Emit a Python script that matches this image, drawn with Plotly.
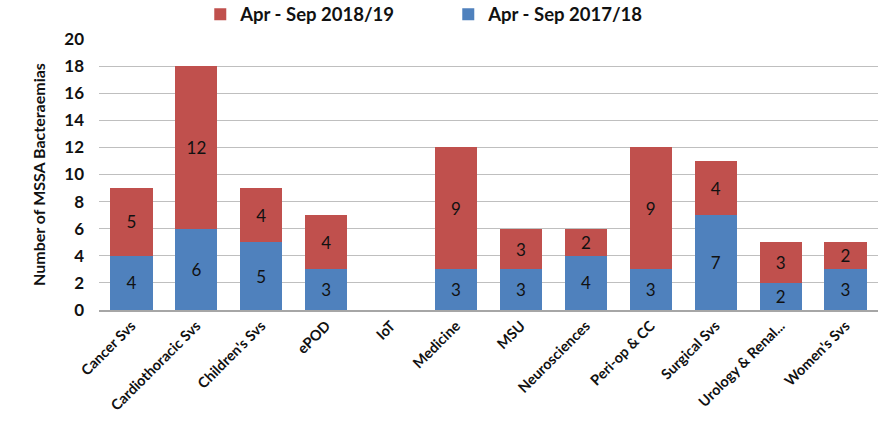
import plotly.graph_objects as go

categories = ["Cancer Svs", "Cardiothoracic Svs", "Children's Svs", "ePOD", "IoT",
              "Medicine", "MSU", "Neurosciences", "Peri-op & CC", "Surgical Svs",
              "Urology & Renal...", "Women's Svs"]
values_1718 = [4, 6, 5, 3, 0, 3, 3, 4, 3, 7, 2, 3]
values_1819 = [5, 12, 4, 4, 0, 9, 3, 2, 9, 4, 3, 2]
y_ticks = [0, 2, 4, 6, 8, 10, 12, 14, 16, 18, 20]

FONT = "Lato, 'Open Sans', sans-serif"
BLUE = "#4F81BD"
RED = "#C0504D"


def labels(vals):
    return [str(v) if v else "" for v in vals]


fig = go.Figure()
fig.add_trace(go.Bar(
    x=categories, y=values_1718, name="Apr - Sep 2017/18",
    marker=dict(color=BLUE, line=dict(width=0)),
    text=labels(values_1718), textposition="inside", insidetextanchor="middle",
    textfont=dict(color="#111111", size=17, family=FONT),
))
fig.add_trace(go.Bar(
    x=categories, y=values_1819, name="Apr - Sep 2018/19",
    marker=dict(color=RED, line=dict(width=0)),
    text=labels(values_1819), textposition="inside", insidetextanchor="middle",
    textfont=dict(color="#111111", size=17, family=FONT),
))

fig.update_layout(
    width=892, height=427,
    barmode="stack", bargap=0.35,
    plot_bgcolor="white", paper_bgcolor="white",
    margin=dict(l=99, r=14, t=39, b=117, autoexpand=False),
    font=dict(family=FONT, color="#111111"),
    legend=dict(
        orientation="h", x=0.13, y=1.09, xanchor="left", yanchor="middle",
        traceorder="reversed", font=dict(size=18.5, family=FONT, weight="bold"),
        itemwidth=30, entrywidth=203, bgcolor="rgba(0,0,0,0)",
    ),
    xaxis=dict(
        tickangle=-45, tickfont=dict(size=14.5, family=FONT, weight="bold"),
        showline=True, linecolor="#A6A6A6", linewidth=1.5, ticks="",
    ),
    yaxis=dict(
        range=[0, 20], tickvals=y_ticks, showgrid=True, gridcolor="#BFBFBF",
        gridwidth=1.2, zeroline=False, ticks="", ticklabelstandoff=14,
        tickfont=dict(size=17, family=FONT, weight="bold"),
        title=dict(text="Number of MSSA Bacteraemias",
                   font=dict(size=16, family=FONT, weight="bold"), standoff=14),
    ),
)

fig.write_html("out.html")
